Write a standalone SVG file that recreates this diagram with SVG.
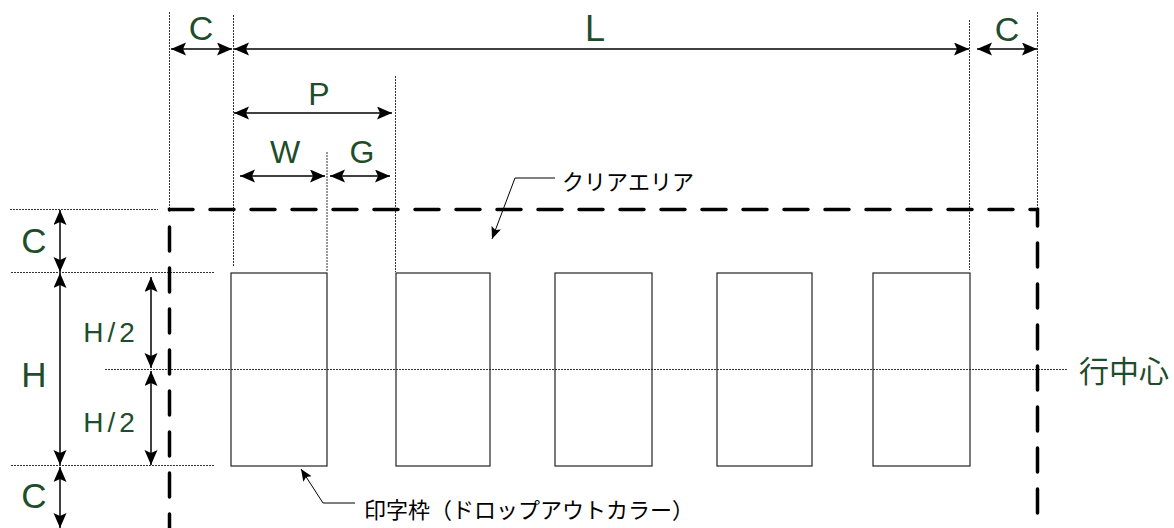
<svg xmlns="http://www.w3.org/2000/svg" width="1174" height="528" viewBox="0 0 1174 528">
<style>
.g{fill:#1e4d2b;font-family:"Liberation Sans",Arial,sans-serif;}
.j{font-family:"Noto Sans CJK JP","Liberation Sans",sans-serif;}
.dim{stroke:#000;stroke-width:1.5;fill:none;marker-start:url(#ah);marker-end:url(#ah);}
.guide{stroke:#333;stroke-width:1;stroke-dasharray:2 1;fill:none;}
.box{fill:none;stroke:#222;stroke-width:1.2;}
.lead{stroke:#000;stroke-width:1;fill:none;marker-end:url(#sa);}
</style>
<defs>
<marker id="ah" markerUnits="userSpaceOnUse" markerWidth="16" markerHeight="14" refX="15" refY="6.5" orient="auto-start-reverse"><path d="M0,0 L15,6.5 L0,13 L3,6.5 z" fill="#000"/></marker>
<marker id="sa" markerUnits="userSpaceOnUse" markerWidth="14" markerHeight="12" refX="12" refY="5" orient="auto"><path d="M0,0 L12,5 L0,10 L2.5,5 z" fill="#000"/></marker>
</defs>
<rect width="1174" height="528" fill="#fff"/>
<g id="guides">
<path class="guide" d="M169.5,12 V209 M233.5,15 V266 M969.5,20 V270 M1037.5,12 V209 M395.5,76 V272 M327,152 V272"/>
<path class="guide" d="M10,209.5 H158 M11,272.5 H215 M105,369.5 H1068 M11,465.5 H215"/>
</g>
<g id="clear-area">
<path d="M169.5,528 V209.5 H1037.5 V528" fill="none" stroke="#000" stroke-width="3.5" stroke-linecap="round" stroke-dasharray="24 17" stroke-dashoffset="10"/>
</g>
<g id="boxes">
<rect id="box1" class="box" x="231" y="273" width="96" height="193"/>
<rect id="box2" class="box" x="396" y="273" width="94" height="193"/>
<rect id="box3" class="box" x="555" y="273" width="97" height="193"/>
<rect id="box4" class="box" x="717" y="273" width="95" height="193"/>
<rect id="box5" class="box" x="873" y="273" width="97" height="193"/>
</g>
<g id="connectors">
<line class="dim" x1="171" y1="49" x2="232" y2="49"/>
<line class="dim" x1="234" y1="49" x2="969" y2="49"/>
<line class="dim" x1="977" y1="49" x2="1037" y2="49"/>
<line class="dim" x1="234" y1="113" x2="392" y2="113"/>
<line class="dim" x1="240" y1="176" x2="325" y2="176"/>
<line class="dim" x1="330" y1="176" x2="390" y2="176"/>
<line class="dim" x1="60" y1="210" x2="60" y2="272"/>
<line class="dim" x1="60" y1="273" x2="60" y2="465"/>
<line class="dim" x1="60" y1="467" x2="60" y2="528"/>
<line class="dim" x1="151" y1="277" x2="151" y2="368"/>
<line class="dim" x1="151" y1="371" x2="151" y2="465"/>
<path class="lead" d="M555,178 H515 L492,239"/>
<path class="lead" d="M355,503 H323 L301,469"/>
</g>
<g id="labels">
<text class="g" x="201" y="40" font-size="34" text-anchor="middle">C</text>
<text class="g" x="595" y="41" font-size="36" text-anchor="middle">L</text>
<text class="g" x="1007" y="41" font-size="34" text-anchor="middle">C</text>
<text class="g" x="319" y="105" font-size="32" text-anchor="middle">P</text>
<text class="g" x="285" y="163" font-size="32" text-anchor="middle">W</text>
<text class="g" x="362" y="163" font-size="32" text-anchor="middle">G</text>
<text class="g" x="34" y="253" font-size="35" text-anchor="middle">C</text>
<text class="g" x="34" y="387" font-size="35" text-anchor="middle">H</text>
<text class="g" x="34" y="508" font-size="35" text-anchor="middle">C</text>
<text class="g" x="111" y="342" font-size="28" text-anchor="middle" letter-spacing="4">H/2</text>
<text class="g" x="111" y="432" font-size="28" text-anchor="middle" letter-spacing="4">H/2</text>
<text class="g j" x="1079" y="382" font-size="30">行中心</text>
<text class="j" x="562" y="190" font-size="22" fill="#000">クリアエリア</text>
<text class="j" x="364" y="518" font-size="22" fill="#000">印字枠（ドロップアウトカラー）</text>
</g>
</svg>
